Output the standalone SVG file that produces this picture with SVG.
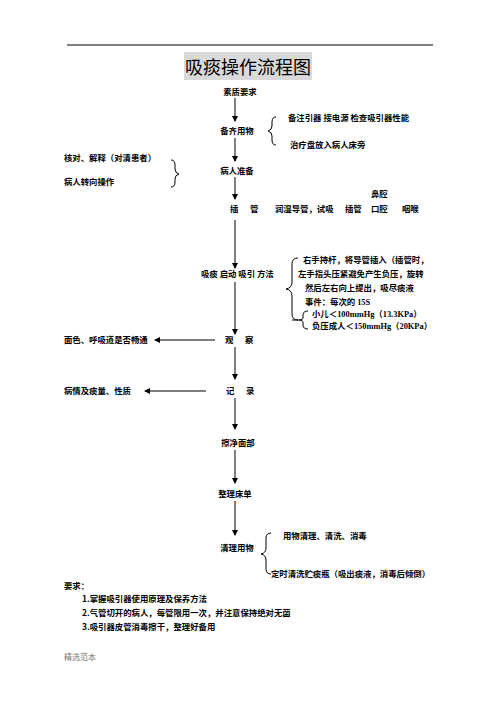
<svg xmlns="http://www.w3.org/2000/svg" width="496" height="702" viewBox="0 0 496 702">
<defs>
<marker id="ah" markerWidth="6" markerHeight="6" refX="5" refY="3" orient="auto" markerUnits="userSpaceOnUse">
<path d="M0,0 L6,3 L0,6 Z" fill="#000"/>
</marker>
</defs>
<style>
text{font-family:"Noto Sans CJK SC","Liberation Serif",sans-serif;font-size:8.4px;font-weight:bold;fill:#000}
.t{font-weight:normal;font-size:18px}
.f{font-weight:normal;font-size:8px;fill:#777}
.s{font-family:"Liberation Serif",serif}
.c line,.c path{stroke:#000;stroke-width:1;fill:none}
.a{marker-end:url(#ah)}
</style>
<rect width="496" height="702" fill="#fff"/>
<line x1="67" y1="45" x2="433" y2="45" stroke="#000" stroke-width="1"/>
<g id="title"><rect x="184" y="52" width="128" height="28" fill="#d9d9d9"/><text class="t" x="248" y="74" text-anchor="middle">吸痰操作流程图</text></g>
<g class="c" id="connectors">
<line class="a" x1="235" y1="98" x2="235" y2="121"/>
<line class="a" x1="235" y1="138" x2="235" y2="161"/>
<line class="a" x1="235" y1="177" x2="235" y2="199"/>
<line class="a" x1="235" y1="220" x2="235" y2="268"/>
<line class="a" x1="235" y1="282" x2="235" y2="334"/>
<line class="a" x1="215" y1="340" x2="155" y2="340"/>
<line class="a" x1="235" y1="347" x2="235" y2="379"/>
<line class="a" x1="206" y1="391" x2="145" y2="391"/>
<line class="a" x1="235" y1="398" x2="235" y2="429"/>
<line class="a" x1="235" y1="450" x2="235" y2="483"/>
<line class="a" x1="235" y1="501" x2="235" y2="535"/>
<path d="M276,117 Q272,117 272,122 L272,126 Q272,130 268,131 Q272,132 272,136 L272,140 Q272,145 276,145"/>
<path d="M171,160 Q175,160 175,165 L175,169 Q175,173 179,174 Q175,175 175,179 L175,182 Q175,187 171,187"/>
<path d="M298,258 Q292,258 292,264 L292,282 Q292,288 286,289 Q292,290 292,296 L292,314 Q292,320 298,320"/>
<path d="M308,311 Q303,311 303,315 L303,318 Q303,320 299,320 Q303,320 303,322 L303,325 Q303,329 308,329"/>
<line x1="292" y1="320" x2="299" y2="320"/>
<path d="M271,533 Q266,533 266,538 L266,548 Q266,553 261,554 Q266,555 266,560 L266,569 Q266,574 271,574"/>
</g>
<g id="n1"><text x="240" y="95" text-anchor="middle">素质要求</text></g>
<g id="n2"><text x="237" y="134" text-anchor="middle">备齐用物</text>
<text x="288" y="121">备注引器 接电源 检查吸引器性能</text>
<text x="290" y="148">治疗盘放入病人床旁</text></g>
<g id="n3"><text x="237" y="174" text-anchor="middle">病人准备</text>
<text x="64" y="161">核对、解释（对清患者）</text>
<text x="64" y="185">病人转向操作</text></g>
<g id="n4"><text x="230" y="212">插</text><text x="250" y="212">管</text>
<text x="275" y="212">润湿导管，试吸</text>
<text x="345" y="212">插管</text>
<text x="371" y="197">鼻腔</text>
<text x="371" y="212">口腔</text>
<text x="402" y="212">咽喉</text></g>
<g id="n5"><text x="201" y="277">吸痰 启动 吸引 方法</text>
<text x="303" y="263">右手持杆，将导管插入（插管时，</text>
<text x="298" y="277">左手指头压紧避免产生负压，旋转</text>
<text x="305" y="291">然后左右向上提出，吸尽痰液</text>
<text x="305" y="305">事件：每次的 <tspan class="s">15S</tspan></text>
<text x="312" y="317">小儿＜<tspan class="s">100mmHg</tspan>（<tspan class="s">13.3KPa</tspan>）</text>
<text x="312" y="329">负压成人＜<tspan class="s">150mmHg</tspan>（<tspan class="s">20KPa</tspan>）</text></g>
<g id="n6"><text x="225" y="343">观</text><text x="245" y="343">察</text>
<text x="64" y="343">面色、呼吸道是否畅通</text></g>
<g id="n7"><text x="226" y="394">记</text><text x="246" y="394">录</text>
<text x="64" y="394">病情及痰量、性质</text></g>
<g id="n8"><text x="238" y="446" text-anchor="middle">擦净面部</text></g>
<g id="n9"><text x="235" y="497" text-anchor="middle">整理床单</text></g>
<g id="n10"><text x="237" y="551" text-anchor="middle">清理用物</text>
<text x="283" y="539">用物清理、清洗、消毒</text>
<text x="271" y="577">定时清洗贮痰瓶（吸出痰液，消毒后倾倒）</text></g>
<g id="req"><text x="64" y="589">要求：</text>
<text x="82" y="602">1.掌握吸引器使用原理及保养方法</text>
<text x="82" y="616">2.气管切开的病人，每管限用一次，并注意保持绝对无菌</text>
<text x="82" y="630">3.吸引器皮管消毒擦干，整理好备用</text></g>
<text class="f" x="64" y="660">精选范本</text>
</svg>
